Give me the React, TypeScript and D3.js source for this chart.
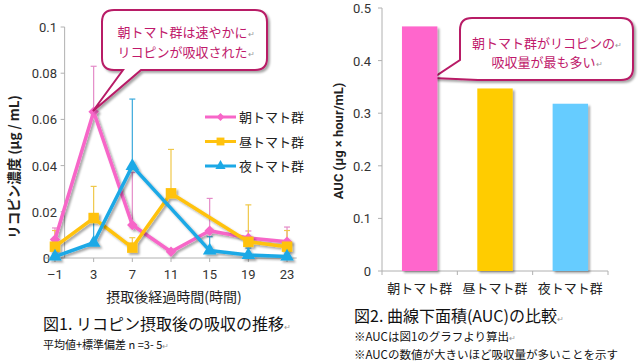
import React, { useEffect, useRef } from 'react';
import * as d3 from 'd3';

// time course (hours after intake)
const hours = [-1, 3, 7, 11, 15, 19, 23];
const morning = [0.008, 0.0633, 0.0143, 0.0027, 0.0118, 0.0087, 0.007];
const morningSd = [0.005, 0.0197, 0.0227, 0.001, 0.014, 0.003, 0.0064];
const noon = [0.0049, 0.0173, 0.0045, 0.028, null, 0.007, 0.0049];
const noonSd = [0.007, 0.0137, 0.0043, 0.019, null, 0.016, 0.007];
const night = [0.0006, 0.0066, 0.0398, null, 0.0032, 0.0013, 0.0006];
const nightSd = [0.001, 0.009, 0.029, null, 0.006, 0.003, 0.001];
const concTicks = [0, 0.02, 0.04, 0.06, 0.08, 0.1];

// AUC
const groups = ['朝トマト群', '昼トマト群', '夜トマト群'];
const auc = [0.465, 0.347, 0.318];
const aucTicks = [0, 0.1, 0.2, 0.3, 0.4, 0.5];

const FONT = '"Noto Sans CJK JP", "Noto Sans", sans-serif';
const AXIS_FONT = 'Roboto, "Noto Sans", sans-serif';

const App: React.FC = () => {
  const svgRef = useRef<SVGSVGElement>(null);

  useEffect(() => {
    const svg = d3.select(svgRef.current);
    svg.selectAll('*').remove();

    const defs = svg.append('defs');
    defs.append('filter')
      .attr('id', 'shadow')
      .attr('x', '-20%').attr('y', '-20%').attr('width', '140%').attr('height', '140%')
      .append('feDropShadow')
      .attr('dx', 2).attr('dy', 2).attr('stdDeviation', 1.2)
      .attr('flood-color', '#000').attr('flood-opacity', 0.35);

    // ---------- Figure 1 ----------
    const x = d3.scaleLinear().domain([-2, 24]).range([45.3, 296.7]);
    const y = d3.scaleLinear().domain([0, 0.1]).range([258, 27]);

    const g1 = svg.append('g');

    // y axis
    g1.append('line')
      .attr('x1', x(0)).attr('x2', x(0)).attr('y1', y(0.1)).attr('y2', y(0))
      .attr('stroke', '#b0b0b0');
    concTicks.forEach(t => {
      g1.append('line')
        .attr('x1', x(0) - 4).attr('x2', x(0)).attr('y1', y(t)).attr('y2', y(t))
        .attr('stroke', '#b0b0b0');
      g1.append('text')
        .attr('x', t === 0 ? 50 : 57).attr('y', y(t) + 5)
        .attr('text-anchor', 'end')
        .style('font-family', AXIS_FONT).style('font-size', '13px').style('fill', '#333')
        .text(t === 0 ? '0' : d3.format('.2~f')(t));
    });
    // x axis
    g1.append('line')
      .attr('x1', x(-2)).attr('x2', x(24)).attr('y1', y(0)).attr('y2', y(0))
      .attr('stroke', '#b0b0b0');
    hours.forEach(h => {
      g1.append('line')
        .attr('x1', x(h)).attr('x2', x(h)).attr('y1', y(0)).attr('y2', y(0) + 4)
        .attr('stroke', '#b0b0b0');
      g1.append('text')
        .attr('x', x(h)).attr('y', y(0) + 21)
        .attr('text-anchor', 'middle')
        .style('font-family', AXIS_FONT).style('font-size', '13px').style('fill', '#333')
        .text(h < 0 ? '\u2013' + Math.abs(h) : String(h));
    });

    const series = [
      { name: '朝トマト群', values: morning, sd: morningSd, color: '#f766c8', err: '#e48bc8', marker: 'diamond' },
      { name: '昼トマト群', values: noon, sd: noonSd, color: '#ffc20e', err: '#f0c84a', marker: 'square' },
      { name: '夜トマト群', values: night, sd: nightSd, color: '#1ca9e6', err: '#3aa9dc', marker: 'triangle' },
    ];

    const markerPath = (m: string) => {
      if (m === 'diamond') return d3.symbol(d3.symbolDiamond2, 70)() as string;
      if (m === 'square') return d3.symbol(d3.symbolSquare, 110)() as string;
      return d3.symbol(d3.symbolTriangle, 80)() as string;
    };

    // error bars
    series.forEach(s => {
      s.values.forEach((v, i) => {
        if (v == null || s.sd[i] == null) return;
        const top = y(v + (s.sd[i] as number));
        g1.append('line')
          .attr('x1', x(hours[i])).attr('x2', x(hours[i]))
          .attr('y1', y(v)).attr('y2', top)
          .attr('stroke', s.err).attr('stroke-width', 1.2);
        g1.append('line')
          .attr('x1', x(hours[i]) - 3).attr('x2', x(hours[i]) + 3)
          .attr('y1', top).attr('y2', top)
          .attr('stroke', s.err).attr('stroke-width', 1.2);
      });
    });

    const line = d3.line<[number, number]>().x(d => x(d[0])).y(d => y(d[1]));

    series.forEach(s => {
      const pts = hours.map((h, i) => [h, s.values[i]]).filter(d => d[1] != null) as [number, number][];
      const sg = g1.append('g').attr('filter', 'url(#shadow)');
      sg.append('path')
        .attr('d', line(pts))
        .attr('fill', 'none').attr('stroke', s.color).attr('stroke-width', 3.5)
        .attr('stroke-linejoin', 'round');
      sg.selectAll('path.m')
        .data(pts)
        .enter()
        .append('path')
        .attr('class', 'm')
        .attr('d', markerPath(s.marker))
        .attr('transform', d => `translate(${x(d[0])},${y(d[1])})`)
        .attr('fill', s.color);
    });

    // legend
    series.forEach((s, i) => {
      const ly = 117 + i * 24.5;
      const lg = g1.append('g').attr('transform', `translate(205,${ly})`);
      lg.append('line').attr('x1', 0).attr('x2', 31).attr('stroke', s.color).attr('stroke-width', 3);
      lg.append('path').attr('d', markerPath(s.marker)).attr('transform', 'translate(15.5,0) scale(0.75)').attr('fill', s.color);
      lg.append('text')
        .attr('x', 34).attr('y', 5)
        .style('font-family', FONT).style('font-size', '13px').style('fill', '#222')
        .text(s.name);
    });

    // axis titles
    g1.append('text')
      .attr('transform', 'translate(19,167) rotate(-90)')
      .attr('text-anchor', 'middle')
      .style('font-family', FONT).style('font-size', '13.5px').style('font-weight', 'bold').style('fill', '#222')
      .text('リコピン濃度 (μg / mL)');
    g1.append('text')
      .attr('x', 174).attr('y', 302)
      .attr('text-anchor', 'middle')
      .style('font-family', FONT).style('font-size', '14px').style('fill', '#222')
      .text('摂取後経過時間(時間)');

    // callouts
    const callout = (path: string, lines: string[], cx: number, y0: number, dy: number) => {
      const cg = svg.append('g');
      cg.append('path')
        .attr('d', path)
        .attr('fill', '#fff').attr('stroke', '#b81a66').attr('stroke-width', 2)
        .attr('filter', 'url(#shadow)');
      lines.forEach((t, i) => {
        const tx = cg.append('text')
          .attr('x', cx).attr('y', y0 + i * dy)
          .attr('text-anchor', 'middle')
          .style('font-family', FONT).style('font-size', '13px').style('fill', '#c0196b');
        tx.append('tspan').text(t);
        tx.append('tspan').style('font-size', '8px').style('fill', '#999').text('\u21b5');
      });
    };
    const r = 12;
    callout(
      `M${102 + r},10 H${267 - r} Q267,10 267,${10 + r} V${70 - r} Q267,70 ${267 - r},70 H141 L93,111 L123,70 H${102 + r} Q102,70 102,${70 - r} V${10 + r} Q102,10 ${102 + r},10 Z`,
      ['朝トマト群は速やかに', 'リコピンが吸収された'], 186, 37, 20
    );
    callout(
      `M${460 + r},18 H${633 - r} Q633,18 633,${18 + r} V${80 - r} Q633,80 ${633 - r},80 H478 L433,78 L460,60 V${18 + r} Q460,18 ${460 + r},18 Z`,
      ['朝トマト群がリコピンの', '吸収量が最も多い'], 547, 48, 19
    );

    // ---------- Figure 2 ----------
    const g2 = svg.append('g');
    const xb = d3.scaleBand().domain(groups).range([382, 608]).paddingInner(0.53).paddingOuter(0.265);
    const yb = d3.scaleLinear().domain([0, 0.5]).range([271, 8]);

    g2.append('line')
      .attr('x1', 382).attr('x2', 382).attr('y1', yb(0.5)).attr('y2', yb(0))
      .attr('stroke', '#b0b0b0');
    aucTicks.forEach(t => {
      g2.append('line')
        .attr('x1', 378).attr('x2', 382).attr('y1', yb(t)).attr('y2', yb(t))
        .attr('stroke', '#b0b0b0');
      g2.append('text')
        .attr('x', 371).attr('y', yb(t) + 5)
        .attr('text-anchor', 'end')
        .style('font-family', AXIS_FONT).style('font-size', '13px').style('fill', '#333')
        .text(t === 0 ? '0' : d3.format('.1f')(t));
    });
    g2.append('line')
      .attr('x1', 382).attr('x2', 608).attr('y1', yb(0)).attr('y2', yb(0))
      .attr('stroke', '#b0b0b0');
    [0, 1, 2, 3].forEach(i => {
      const tx = 382 + (i * 226) / 3;
      g2.append('line')
        .attr('x1', tx).attr('x2', tx).attr('y1', yb(0)).attr('y2', yb(0) + 4)
        .attr('stroke', '#b0b0b0');
    });

    const barColors = ['#ff66cc', '#ffcc00', '#66ccff'];
    g2.selectAll('rect.bar')
      .data(groups)
      .enter()
      .append('rect')
      .attr('class', 'bar')
      .attr('x', d => xb(d) as number)
      .attr('y', (d, i) => yb(auc[i]))
      .attr('width', xb.bandwidth())
      .attr('height', (d, i) => yb(0) - yb(auc[i]))
      .attr('fill', (d, i) => barColors[i])
      .attr('filter', 'url(#shadow)');

    groups.forEach(gname => {
      g2.append('text')
        .attr('x', (xb(gname) as number) + xb.bandwidth() / 2).attr('y', 293)
        .attr('text-anchor', 'middle')
        .style('font-family', FONT).style('font-size', '13px').style('fill', '#222')
        .text(gname);
    });

    g2.append('text')
      .attr('transform', 'translate(343,141) rotate(-90)')
      .attr('text-anchor', 'middle')
      .style('font-family', AXIS_FONT).style('font-size', '13px').style('font-weight', 'bold').style('fill', '#222')
      .text('AUC (μg × hour/mL)');

    // captions
    const caption = (tx: number, ty: number, size: number, t: string, mark: boolean) => {
      const el = svg.append('text')
        .attr('x', tx).attr('y', ty)
        .style('font-family', FONT).style('font-size', `${size}px`).style('fill', '#111');
      el.append('tspan').text(t);
      if (mark) el.append('tspan').style('font-size', '8px').style('fill', '#999').text('\u21b5');
    };
    caption(43, 330, 16, '図1. リコピン摂取後の吸収の推移', true);
    caption(43, 349, 11, '平均値+標準偏差 n =3- 5', true);
    caption(354, 322, 16, '図2. 曲線下面積(AUC)の比較', true);
    caption(354, 341, 11.5, '※AUCは図1のグラフより算出', true);
    caption(354, 359, 11.5, '※AUCの数値が大きいほど吸収量が多いことを示す', false);
  }, []);

  return (
    <div style={{ position: 'absolute', left: 0, top: 0 }}>
      <svg ref={svgRef} width={640} height={363} style={{ display: 'block', background: '#fff' }}></svg>
    </div>
  );
};

export default App;
